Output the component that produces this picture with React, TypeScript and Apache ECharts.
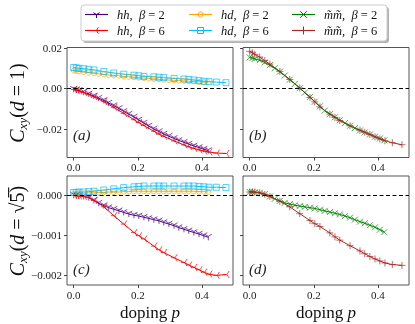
import React, { useEffect, useRef } from "react";
import * as echarts from "echarts";

// doping values
const pB2 = [0, 0.008, 0.016, 0.031, 0.047, 0.063, 0.078, 0.094, 0.109, 0.125, 0.141, 0.156, 0.172, 0.188, 0.203, 0.219, 0.234, 0.25, 0.266, 0.281, 0.297, 0.313, 0.328, 0.344, 0.359, 0.375, 0.391, 0.406, 0.42];
const pB6 = [0, 0.008, 0.016, 0.031, 0.047, 0.063, 0.094, 0.125, 0.156, 0.188, 0.203, 0.219, 0.25, 0.266, 0.281, 0.313, 0.344, 0.359, 0.375, 0.391, 0.406, 0.422, 0.445, 0.475];

// d = 1
const hhB2_d1 = [-0.0005, -0.0008, -0.0011, -0.0019, -0.0028, -0.0038, -0.0049, -0.006, -0.0073, -0.0086, -0.01, -0.0114, -0.0128, -0.0142, -0.0157, -0.0172, -0.0187, -0.0201, -0.0214, -0.0226, -0.0237, -0.0248, -0.0258, -0.0267, -0.0276, -0.0285, -0.0293, -0.0301, -0.0308];
const hhB6_d1 = [-0.0006, -0.0009, -0.0013, -0.0021, -0.0031, -0.0042, -0.0066, -0.0094, -0.0124, -0.0155, -0.0169, -0.0184, -0.0212, -0.0226, -0.0237, -0.026, -0.028, -0.0289, -0.0297, -0.0304, -0.031, -0.0315, -0.032, -0.0322];
const hdB2_d1 = [0.0088, 0.0086, 0.0084, 0.0081, 0.0078, 0.0075, 0.0072, 0.0069, 0.0066, 0.0064, 0.0062, 0.0059, 0.0057, 0.0055, 0.0053, 0.0051, 0.0049, 0.0047, 0.0045, 0.0043, 0.0041, 0.004, 0.0038, 0.0037, 0.0035, 0.0034, 0.0032, 0.0031, 0.003];
const hdB6_d1 = [0.0103, 0.0101, 0.0099, 0.0097, 0.0094, 0.0091, 0.0083, 0.0076, 0.007, 0.0065, 0.0062, 0.0059, 0.0057, 0.0055, 0.0053, 0.0049, 0.0046, 0.0044, 0.0041, 0.0038, 0.0035, 0.0033, 0.0031, 0.0028];
const mmB2_d1 = [0.0153, 0.015, 0.0146, 0.0139, 0.0128, 0.0115, 0.01, 0.0082, 0.0063, 0.0043, 0.0022, 0.0001, -0.0021, -0.0043, -0.0066, -0.0089, -0.011, -0.0127, -0.0143, -0.0158, -0.0172, -0.0185, -0.0197, -0.0208, -0.0218, -0.0228, -0.0239, -0.0248, -0.0257];
const mmB6_d1 = [0.0183, 0.0176, 0.0168, 0.0155, 0.0137, 0.012, 0.0084, 0.0044, 0.0002, -0.0045, -0.0067, -0.0092, -0.0128, -0.0144, -0.0159, -0.0185, -0.0207, -0.0217, -0.0228, -0.024, -0.025, -0.0259, -0.0269, -0.0279];

// d = sqrt(5)
const hhB2_d5 = [0, -0.00001, -0.00002, -0.00003, -0.00006, -0.00013, -0.0002, -0.00026, -0.00031, -0.00035, -0.00039, -0.00043, -0.00047, -0.0005, -0.00052, -0.00055, -0.00058, -0.00061, -0.00064, -0.00068, -0.00072, -0.00076, -0.00081, -0.00085, -0.00089, -0.00093, -0.00097, -0.00101, -0.00105];
const hhB6_d5 = [0, -0.00001, -0.00002, -0.00003, -0.00006, -0.00013, -0.00029, -0.00051, -0.00072, -0.00093, -0.00101, -0.00109, -0.00127, -0.00136, -0.00143, -0.00156, -0.00168, -0.00174, -0.0018, -0.00186, -0.00192, -0.00197, -0.002, -0.00198];
const hdB2_d5 = [0.00004, 0.00004, 0.00005, 0.00005, 0.00006, 0.00006, 0.00007, 0.00007, 0.00008, 0.00008, 0.00008, 0.00009, 0.00009, 0.0001, 0.0001, 0.0001, 0.0001, 0.0001, 0.0001, 0.0001, 0.0001, 0.0001, 0.0001, 0.0001, 0.0001, 0.0001, 0.00009, 0.00009, 0.00008];
const hdB6_d5 = [0.00007, 0.00007, 0.00008, 0.00008, 0.00009, 0.0001, 0.00013, 0.00016, 0.00019, 0.00021, 0.00022, 0.00023, 0.00023, 0.00023, 0.00023, 0.00023, 0.00023, 0.00023, 0.00023, 0.00022, 0.00021, 0.0002, 0.0002, 0.00019];
const mmB2_d5 = [0.00008, 0.00008, 0.00007, 0.00006, 0.00003, -0.00003, -0.00009, -0.00014, -0.00019, -0.00022, -0.00025, -0.00027, -0.00029, -0.00031, -0.00033, -0.00036, -0.00039, -0.00042, -0.00045, -0.00048, -0.00052, -0.00056, -0.00061, -0.00066, -0.0007, -0.00075, -0.0008, -0.00086, -0.00092];
const mmB6_d5 = [0.00008, 0.00009, 0.00008, 0.00006, 0.00002, -0.00003, -0.00015, -0.00029, -0.00046, -0.00063, -0.00071, -0.00078, -0.00094, -0.00104, -0.00112, -0.00126, -0.00139, -0.00146, -0.00153, -0.00159, -0.00164, -0.00169, -0.00173, -0.00175];

const xTicks = [0, 0.2, 0.4];
const yTicksD1 = [-0.02, 0, 0.02];
const yTicksD5 = [-0.002, -0.001, 0];

const FONT = "'Liberation Serif','DejaVu Serif',serif";

const C = {
  hh2: "#4B0082",
  hh6: "#FF0000",
  hd2: "#FFA500",
  hd6: "#00BFFF",
  mm2: "#008000",
  mm6: "#A52A2A",
};

const SYM = {
  triDown: "path://M0,0L0,10M0,0L-8.66,-5M0,0L8.66,-5",
  triLeft: "path://M0,0L-10,0M0,0L5,-8.66M0,0L5,8.66",
  x: "path://M-5,-5L5,5M-5,5L5,-5",
  plus: "path://M-5,0L5,0M0,-5L0,5",
};

function ser(g: number, ps: number[], vs: number[], color: string, symbol: string, size: number, zero = false) {
  const s: any = {
    type: "line",
    xAxisIndex: g,
    yAxisIndex: g,
    data: ps.map((p, i) => [p, vs[i]]),
    symbol,
    symbolSize: size,
    symbolKeepAspect: true,
    showSymbol: true,
    lineStyle: { color, width: 1 },
    itemStyle: { color: "rgba(0,0,0,0)", borderColor: color, borderWidth: 1, opacity: 0.7 },
    emphasis: { disabled: true },
    silent: true,
  };
  if (zero) {
    s.markLine = {
      silent: true,
      symbol: "none",
      label: { show: false },
      lineStyle: { color: "#000", width: 1, type: [4, 2.5] },
      data: [{ yAxis: 0 }],
    };
  }
  return s;
}

const fmtY = (d: number) => (v: number) => {
  if (Math.abs(v) < 1e-12) return (0).toFixed(d);
  return (v < 0 ? "\u2212" : "") + Math.abs(v).toFixed(d);
};

function xAxis(g: number) {
  return {
    type: "value",
    gridIndex: g,
    position: "bottom",
    min: -0.021,
    max: 0.497,
    splitLine: { show: false },
    axisLine: { show: false, onZero: false },
    axisTick: { show: true, customValues: xTicks, length: 3, lineStyle: { color: "#444" } },
    axisLabel: {
      customValues: xTicks,
      formatter: (v: number) => v.toFixed(1),
      fontFamily: FONT,
      fontSize: 11,
      color: "#222",
      margin: 4,
    },
  };
}

function yAxis(g: number, top: boolean, labels: boolean) {
  const ticks = top ? yTicksD1 : yTicksD5;
  return {
    type: "value",
    gridIndex: g,
    position: "left",
    min: top ? -0.0342 : -0.00224,
    max: top ? 0.0202 : 0.00048,
    splitLine: { show: false },
    axisLine: { show: false, onZero: false },
    axisTick: { show: true, customValues: ticks, length: 3, lineStyle: { color: "#444" } },
    axisLabel: {
      show: labels,
      customValues: ticks,
      formatter: fmtY(top ? 2 : 3),
      fontFamily: FONT,
      fontSize: 11,
      color: "#222",
      margin: 5,
    },
  };
}

// legend graphics
function markerEls(kind: string, cx: number, cy: number, color: string) {
  const ls = { stroke: color, lineWidth: 1 };
  const r = 3.6;
  const line = (x1: number, y1: number, x2: number, y2: number) => ({
    type: "line",
    shape: { x1, y1, x2, y2 },
    style: ls,
  });
  switch (kind) {
    case "triDown":
      return [line(cx, cy, cx, cy + r), line(cx, cy, cx - 0.866 * r, cy - 0.5 * r), line(cx, cy, cx + 0.866 * r, cy - 0.5 * r)];
    case "triLeft":
      return [line(cx, cy, cx - r, cy), line(cx, cy, cx + 0.5 * r, cy - 0.866 * r), line(cx, cy, cx + 0.5 * r, cy + 0.866 * r)];
    case "circle":
      return [{ type: "circle", shape: { cx, cy, r: 2.6 }, style: { fill: "none", stroke: color, lineWidth: 1 } }];
    case "rect":
      return [{ type: "rect", shape: { x: cx - 3, y: cy - 3, width: 6, height: 6 }, style: { fill: "none", stroke: color, lineWidth: 1 } }];
    case "x":
      return [line(cx - 3.3, cy - 3.3, cx + 3.3, cy + 3.3), line(cx - 3.3, cy + 3.3, cx + 3.3, cy - 3.3)];
    default:
      return [line(cx - 4, cy, cx + 4, cy), line(cx, cy - 4, cx, cy + 4)];
  }
}

const legendItems = [
  { col: 0, row: 0, color: C.hh2, kind: "triDown", text: "{i|hh},  {i|\u03b2} = 2" },
  { col: 0, row: 1, color: C.hh6, kind: "triLeft", text: "{i|hh},  {i|\u03b2} = 6" },
  { col: 1, row: 0, color: C.hd2, kind: "circle", text: "{i|hd},  {i|\u03b2} = 2" },
  { col: 1, row: 1, color: C.hd6, kind: "rect", text: "{i|hd},  {i|\u03b2} = 6" },
  { col: 2, row: 0, color: C.mm2, kind: "x", text: "{i|m\u0303m\u0303},  {i|\u03b2} = 2" },
  { col: 2, row: 1, color: C.mm6, kind: "plus", text: "{i|m\u0303m\u0303},  {i|\u03b2} = 6" },
];

function legendGraphic() {
  const els: any[] = [
    { type: "rect", shape: { x: 83, y: 7, width: 306, height: 36, r: 3 }, style: { fill: "rgba(0,0,0,0.3)" } },
    { type: "rect", shape: { x: 81, y: 5, width: 306, height: 36, r: 3 }, style: { fill: "#fff", stroke: "#ccc", lineWidth: 1 } },
  ];
  const colX = [85, 189, 292];
  const rowY = [14.5, 30.5];
  legendItems.forEach((it) => {
    const x0 = colX[it.col];
    const y = rowY[it.row];
    els.push({ type: "line", shape: { x1: x0, y1: y, x2: x0 + 23, y2: y }, style: { stroke: it.color, lineWidth: 1.2 } });
    markerEls(it.kind, x0 + 11.5, y, it.color).forEach((e) => els.push(e));
    els.push({
      type: "text",
      x: x0 + 32,
      y,
      style: {
        text: it.text,
        fontFamily: FONT,
        fontSize: 12.5,
        fill: "#111",
        verticalAlign: "middle",
        rich: { i: { fontStyle: "italic", fontFamily: FONT, fontSize: 12.5, fill: "#111" } },
      },
    });
  });
  return els;
}

function yName(y: number, tail: string) {
  return {
    type: "text",
    x: 17,
    y,
    rotation: Math.PI / 2,
    style: {
      text: "{m|C}{s|xy}{n|(}{m|d}{n|" + tail + "}",
      align: "center",
      verticalAlign: "middle",
      fontFamily: FONT,
      fontSize: 20,
      fill: "#111",
      rich: {
        m: { fontStyle: "italic", fontFamily: FONT, fontSize: 20, fill: "#111", lineHeight: 24 },
        n: { fontFamily: FONT, fontSize: 20, fill: "#111", lineHeight: 24 },
        s: { fontStyle: "italic", fontFamily: FONT, fontSize: 13, fill: "#111", lineHeight: 11, verticalAlign: "bottom" },
      },
    },
  };
}

function xName(x: number) {
  return {
    type: "text",
    x,
    y: 312,
    style: {
      text: "doping {i|p}",
      align: "center",
      verticalAlign: "middle",
      fontFamily: FONT,
      fontSize: 17,
      fill: "#111",
      rich: { i: { fontStyle: "italic", fontFamily: FONT, fontSize: 17, fill: "#111" } },
    },
  };
}

function panelLabel(x: number, y: number, l: string) {
  return {
    type: "text",
    x,
    y,
    style: { text: "(" + l + ")", fontFamily: FONT, fontStyle: "italic", fontSize: 15, fill: "#222", verticalAlign: "middle" },
  };
}

export default function App() {
  const ref = useRef<HTMLDivElement>(null);
  useEffect(() => {
    const chart = echarts.init(ref.current!, null, { renderer: "svg" });
    const gridBase = { show: true, borderColor: "#555", borderWidth: 1, backgroundColor: "transparent" };
    chart.setOption({
      animation: false,
      grid: [
        { ...gridBase, left: 67, top: 47.5, width: 166, height: 110 },
        { ...gridBase, left: 243, top: 47.5, width: 166, height: 110 },
        { ...gridBase, left: 67, top: 176, width: 166, height: 109 },
        { ...gridBase, left: 243, top: 176, width: 166, height: 109 },
      ],
      xAxis: [xAxis(0), xAxis(1), xAxis(2), xAxis(3)],
      yAxis: [yAxis(0, true, true), yAxis(1, true, false), yAxis(2, false, true), yAxis(3, false, false)],
      series: [
        ser(0, pB2, hhB2_d1, C.hh2, SYM.triDown, 7, true),
        ser(0, pB6, hhB6_d1, C.hh6, SYM.triLeft, 7),
        ser(0, pB2, hdB2_d1, C.hd2, "circle", 5),
        ser(0, pB6, hdB6_d1, C.hd6, "rect", 6),
        ser(1, pB2, mmB2_d1, C.mm2, SYM.x, 6, true),
        ser(1, pB6, mmB6_d1, C.mm6, SYM.plus, 7),
        ser(2, pB2, hhB2_d5, C.hh2, SYM.triDown, 7, true),
        ser(2, pB6, hhB6_d5, C.hh6, SYM.triLeft, 7),
        ser(2, pB2, hdB2_d5, C.hd2, "circle", 5),
        ser(2, pB6, hdB6_d5, C.hd6, "rect", 6),
        ser(3, pB2, mmB2_d5, C.mm2, SYM.x, 6, true),
        ser(3, pB6, mmB6_d5, C.mm6, SYM.plus, 7),
      ],
      graphic: [
        ...legendGraphic(),
        yName(103, " = 1)"),
        yName(231, " = \u221a5\u0305)"),
        xName(150),
        xName(326),
        panelLabel(73, 135, "a"),
        panelLabel(249, 135, "b"),
        panelLabel(73, 268.5, "c"),
        panelLabel(249, 268.5, "d"),
      ],
    });
    return () => chart.dispose();
  }, []);
  return <div ref={ref} style={{ position: "fixed", left: 0, top: 0, width: 415, height: 324 }} />;
}
